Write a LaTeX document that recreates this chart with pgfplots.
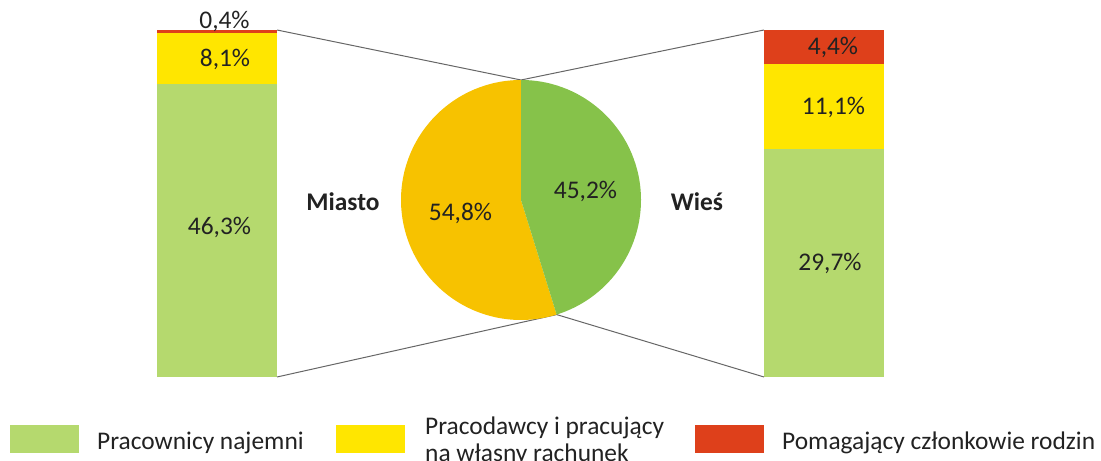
\documentclass[border=0pt]{standalone}
\usepackage{pgfplots}
\pgfplotsset{compat=1.18}
\usepackage{fontspec}
\setmainfont{Carlito}
\definecolor{barG}{HTML}{B5D96E}
\definecolor{barY}{HTML}{FFE600}
\definecolor{barR}{HTML}{DE401B}
\definecolor{pieY}{HTML}{F7C200}
\definecolor{pieG}{HTML}{86C24A}
\definecolor{lineC}{HTML}{666666}
\definecolor{txt}{HTML}{222222}
\begin{document}
\begin{tikzpicture}[font=\fontsize{25.5}{30}\selectfont, text=txt]
% left bar: Miasto (54.8% of total, normalised to full height)
\begin{axis}[at={(0,84bp)}, anchor=south west, scale only axis,
  width=1101bp, height=347bp, xmin=0, xmax=1101, ymin=0, ymax=54.8,
  hide axis, clip=false, ybar stacked, bar width=120]
\addplot[fill=barG, draw=none] coordinates {(217,46.3)};
\addplot[fill=barY, draw=none] coordinates {(217,8.1)};
\addplot[fill=barR, draw=none] coordinates {(217,0.4)};
\end{axis}
% right bar: Wieś (45.2% of total, normalised to full height)
\begin{axis}[at={(0,84bp)}, anchor=south west, scale only axis,
  width=1101bp, height=347bp, xmin=0, xmax=1101, ymin=0, ymax=45.2,
  hide axis, clip=false, ybar stacked, bar width=120]
\addplot[fill=barG, draw=none] coordinates {(824,29.7)};
\addplot[fill=barY, draw=none] coordinates {(824,11.1)};
\addplot[fill=barR, draw=none] coordinates {(824,4.4)};
\end{axis}
% main frame: pie, connectors, labels, legend
\begin{axis}[at={(0,0)}, anchor=south west, scale only axis,
  width=1101bp, height=461bp, xmin=0, xmax=1101, ymin=-84, ymax=377,
  hide axis, clip=false]
\addplot[lineC, line width=1bp, no marks] coordinates {(277,347) (521,297) (764,347)};
\addplot[lineC, line width=1bp, no marks] coordinates {(277,0) (556.65,62.42) (764,0)};
\pgfmathsetmacro{\angM}{3.6*54.8}
\pgfmathsetmacro{\angW}{-3.6*45.2}
\fill[pieY] (axis cs:521,177) -- (axis cs:521,297) arc[start angle=90, delta angle=\angM, radius=120bp] -- cycle;
\fill[pieG] (axis cs:521,177) -- (axis cs:521,297) arc[start angle=90, delta angle=\angW, radius=120bp] -- cycle;
% labels
\node[anchor=base] at (axis cs:224.5,348) {0,4\%};
\node[anchor=base] at (axis cs:225,310.3) {8,1\%};
\node[anchor=base] at (axis cs:219.5,142) {46,3\%};
\node[anchor=base] at (axis cs:833,322) {4,4\%};
\node[anchor=base] at (axis cs:833.5,262) {11,1\%};
\node[anchor=base] at (axis cs:830,106) {29,7\%};
\node[anchor=base] at (axis cs:460.5,156) {54,8\%};
\node[anchor=base] at (axis cs:585.5,178) {45,2\%};
\node[anchor=base, font=\fontsize{25.5}{30}\bfseries] at (axis cs:343,166) {Miasto};
\node[anchor=base, font=\fontsize{25.5}{30}\bfseries] at (axis cs:697,166) {Wieś};
% legend
\fill[barG] (axis cs:10,-48) rectangle (axis cs:79,-76);
\fill[barY] (axis cs:336,-48) rectangle (axis cs:405,-76);
\fill[barR] (axis cs:695,-48) rectangle (axis cs:764,-76);
\node[anchor=base west, inner sep=0pt] at (axis cs:97,-73) {Pracownicy najemni};
\node[anchor=base west, inner sep=0pt] at (axis cs:425,-58) {Pracodawcy i pracujący};
\node[anchor=base west, inner sep=0pt] at (axis cs:425,-85) {na własny rachunek};
\node[anchor=base west, inner sep=0pt] at (axis cs:782,-73) {Pomagający członkowie rodzin};
\end{axis}
\pgfresetboundingbox
\path[use as bounding box] (0,0) rectangle (1101bp,461bp);
\end{tikzpicture}
\end{document}
